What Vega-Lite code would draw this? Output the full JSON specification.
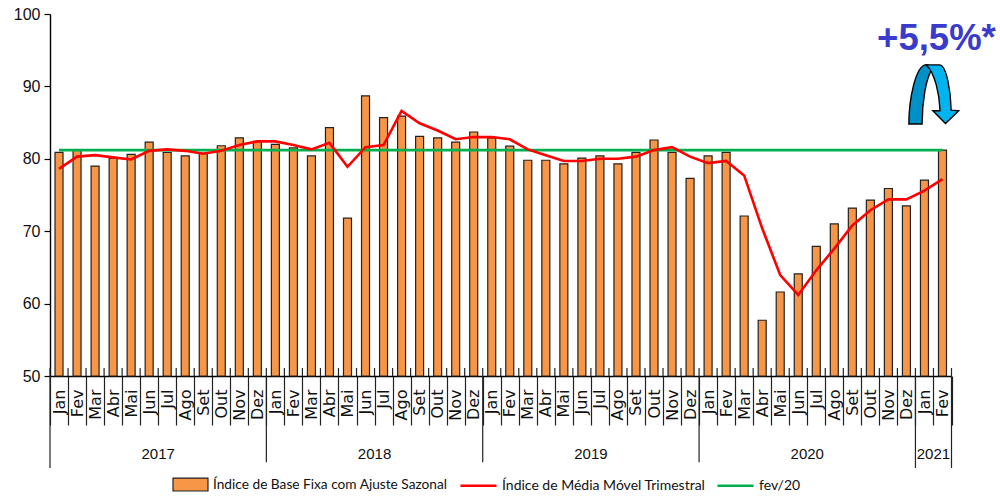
{
"$schema":"https://vega.github.io/schema/vega-lite/v6.json",
"width":901.5,"height":362,
"autosize":{"type":"none"},
"padding":{"left":50,"top":14,"right":48.5,"bottom":121},
"background":"white",
"config":{"view":{"stroke":null}},
"datasets":{
"serie":[
{"mes":"2017-Jan","indice":80.9,"media":78.6,"fev20":81.2},
{"mes":"2017-Fev","indice":81.2,"media":80.3,"fev20":81.2},
{"mes":"2017-Mar","indice":79.0,"media":80.5,"fev20":81.2},
{"mes":"2017-Abr","indice":80.1,"media":80.2,"fev20":81.2},
{"mes":"2017-Mai","indice":80.6,"media":79.9,"fev20":81.2},
{"mes":"2017-Jun","indice":82.3,"media":81.1,"fev20":81.2},
{"mes":"2017-Jul","indice":80.9,"media":81.3,"fev20":81.2},
{"mes":"2017-Ago","indice":80.4,"media":81.1,"fev20":81.2},
{"mes":"2017-Set","indice":80.8,"media":80.7,"fev20":81.2},
{"mes":"2017-Out","indice":81.8,"media":81.1,"fev20":81.2},
{"mes":"2017-Nov","indice":82.9,"media":81.9,"fev20":81.2},
{"mes":"2017-Dez","indice":82.4,"media":82.4,"fev20":81.2},
{"mes":"2018-Jan","indice":82.0,"media":82.4,"fev20":81.2},
{"mes":"2018-Fev","indice":81.5,"media":81.9,"fev20":81.2},
{"mes":"2018-Mar","indice":80.4,"media":81.3,"fev20":81.2},
{"mes":"2018-Abr","indice":84.3,"media":82.2,"fev20":81.2},
{"mes":"2018-Mai","indice":71.8,"media":78.9,"fev20":81.2},
{"mes":"2018-Jun","indice":88.7,"media":81.6,"fev20":81.2},
{"mes":"2018-Jul","indice":85.7,"media":81.9,"fev20":81.2},
{"mes":"2018-Ago","indice":85.9,"media":86.6,"fev20":81.2},
{"mes":"2018-Set","indice":83.1,"media":84.9,"fev20":81.2},
{"mes":"2018-Out","indice":82.9,"media":83.9,"fev20":81.2},
{"mes":"2018-Nov","indice":82.3,"media":82.7,"fev20":81.2},
{"mes":"2018-Dez","indice":83.7,"media":83.0,"fev20":81.2},
{"mes":"2019-Jan","indice":82.9,"media":83.0,"fev20":81.2},
{"mes":"2019-Fev","indice":81.75,"media":82.7,"fev20":81.2},
{"mes":"2019-Mar","indice":79.8,"media":81.3,"fev20":81.2},
{"mes":"2019-Abr","indice":79.8,"media":80.5,"fev20":81.2},
{"mes":"2019-Mai","indice":79.3,"media":79.7,"fev20":81.2},
{"mes":"2019-Jun","indice":80.1,"media":79.7,"fev20":81.2},
{"mes":"2019-Jul","indice":80.4,"media":80.0,"fev20":81.2},
{"mes":"2019-Ago","indice":79.3,"media":80.0,"fev20":81.2},
{"mes":"2019-Set","indice":80.9,"media":80.3,"fev20":81.2},
{"mes":"2019-Out","indice":82.6,"media":81.2,"fev20":81.2},
{"mes":"2019-Nov","indice":80.9,"media":81.6,"fev20":81.2},
{"mes":"2019-Dez","indice":77.3,"media":80.3,"fev20":81.2},
{"mes":"2020-Jan","indice":80.4,"media":79.4,"fev20":81.2},
{"mes":"2020-Fev","indice":80.9,"media":79.7,"fev20":81.2},
{"mes":"2020-Mar","indice":72.1,"media":77.7,"fev20":81.2},
{"mes":"2020-Abr","indice":57.7,"media":70.4,"fev20":81.2},
{"mes":"2020-Mai","indice":61.6,"media":63.95,"fev20":81.2},
{"mes":"2020-Jun","indice":64.1,"media":61.2,"fev20":81.2},
{"mes":"2020-Jul","indice":67.9,"media":64.6,"fev20":81.2},
{"mes":"2020-Ago","indice":71.0,"media":67.6,"fev20":81.2},
{"mes":"2020-Set","indice":73.2,"media":70.8,"fev20":81.2},
{"mes":"2020-Out","indice":74.3,"media":72.9,"fev20":81.2},
{"mes":"2020-Nov","indice":75.9,"media":74.4,"fev20":81.2},
{"mes":"2020-Dez","indice":73.5,"media":74.4,"fev20":81.2},
{"mes":"2021-Jan","indice":77.05,"media":75.6,"fev20":81.2},
{"mes":"2021-Fev","indice":81.2,"media":77.2,"fev20":81.2}
],
"anos":[
{"ano":"2017","centro":"2017-Jun"},
{"ano":"2018","centro":"2018-Jun"},
{"ano":"2019","centro":"2019-Jun"},
{"ano":"2020","centro":"2020-Jun"},
{"ano":"2021","centro":"2021-Jan"}
],
"limites":[
{"mes":"2017-Jan","fim":37.3},
{"mes":"2018-Jan","fim":38.1},
{"mes":"2019-Jan","fim":38.1},
{"mes":"2020-Jan","fim":38.1},
{"mes":"2021-Jan","fim":37.3}
]
},
"data":{"name":"serie"},
"layer":[
{"mark":{"type":"bar","size":8,"stroke":"#222222","strokeWidth":1.2},
"encoding":{
"x":{"field":"mes","type":"nominal","sort":null,"title":null,
"scale":{"type":"band","paddingInner":0,"paddingOuter":0},
"axis":{"orient":"bottom","tickBand":"extent","tickSize":49,"tickColor":"#222222","domainColor":"#000000","domainWidth":1.6,"tickWidth":1.2,
"labelExpr":"split(datum.value,'-')[1]","labelAngle":-90,"labelAlign":"right","labelBaseline":"middle","labelPadding":-36,
"labelFont":"DejaVu Sans","labelFontSize":16,"labelColor":"#111111","labelOverlap":false,"grid":false}},
"y":{"field":"indice","type":"quantitative","title":null,
"scale":{"domain":[50,100],"nice":false,"zero":false},
"axis":{"values":[50,60,70,80,90,100],"grid":false,"tickSize":6,"tickColor":"#000000","tickWidth":1.2,"domainColor":"#000000","domainWidth":1.4,"labelFont":"Liberation Sans","labelFontSize":16,"labelColor":"#111111","labelPadding":4}},
"y2":{"datum":50},
"fill":{"datum":"Índice de Base Fixa com Ajuste Sazonal","type":"nominal",
"scale":{"domain":["Índice de Base Fixa com Ajuste Sazonal"],"range":["#f79646"]},
"legend":{"title":null,"orient":"none","legendX":122,"legendY":452,"labelLimit":400,"symbolType":"M-1,-0.37H1V0.37H-1Z","symbolSize":1225,"symbolStrokeColor":"#222222","symbolStrokeWidth":1.2,"symbolOpacity":1,"labelFont":"Lato","labelFontSize":13.7,"labelColor":"#111111","labelOffset":4}}
}},
{"mark":{"type":"rule","color":"#222222","strokeWidth":1.2},
"encoding":{"x":{"field":"mes","type":"nominal","sort":null,"bandPosition":0},"y":{"datum":50},"y2":{"datum":51.1}}},
{"mark":{"type":"rule","color":"#222222","strokeWidth":1.2},
"data":{"name":"limites"},
"encoding":{"x":{"field":"mes","type":"nominal","sort":null,"bandPosition":0},"y":{"field":"fim","type":"quantitative"},"y2":{"datum":50}}},
{"mark":{"type":"rule","color":"#222222","strokeWidth":1.2},
"data":{"values":[{"mes":"2021-Fev","fim":37.3}]},
"encoding":{"x":{"field":"mes","type":"nominal","sort":null,"bandPosition":1},"y":{"field":"fim","type":"quantitative"},"y2":{"datum":51.1}}},
{"mark":{"type":"text","font":"Liberation Sans","fontSize":15,"color":"#111111","baseline":"middle"},
"data":{"name":"anos"},
"encoding":{"x":{"field":"centro","type":"nominal","sort":null,"bandPosition":1},"y":{"datum":39.2},"text":{"field":"ano"}}},
{"mark":{"type":"line","strokeWidth":2.6,"interpolate":"linear"},
"encoding":{"x":{"field":"mes","type":"nominal","sort":null},"y":{"field":"fev20","type":"quantitative"},
"stroke":{"datum":"fev/20","type":"nominal",
"scale":{"domain":["Índice de Média Móvel Trimestral","fev/20"],"range":["#ff0000","#00b050"]},
"legend":{"title":null,"orient":"none","legendX":409,"legendY":452,"columns":2,"columnPadding":6,"labelLimit":400,"symbolType":"M-1,0H1","symbolSize":1300,"symbolStrokeWidth":2.6,"labelFont":"Lato","labelFontSize":14,"labelColor":"#111111","labelOffset":4}}}},
{"mark":{"type":"line","strokeWidth":2.6,"interpolate":"linear"},
"encoding":{"x":{"field":"mes","type":"nominal","sort":null},"y":{"field":"media","type":"quantitative"},
"stroke":{"datum":"Índice de Média Móvel Trimestral","type":"nominal"}}},
{"mark":{"type":"point","shape":"M-0.82,1 C-0.82,0.2 -0.6,-0.97 -0.24,-0.97 C-0.1,-0.97 -0.05,-0.9 -0.02,-0.86 C-0.25,-0.6 -0.38,0.3 -0.38,1 Z","size":3600,"filled":true,"fill":"#0090c8","stroke":"#000000","strokeWidth":1.4,"opacity":1},
"data":{"values":[{"mes":"2021-Jan"}]},
"encoding":{"x":{"field":"mes","type":"nominal","sort":null,"bandPosition":1},"y":{"datum":88.95}}},
{"mark":{"type":"point","shape":"M-0.24,-0.97 L0.2,-0.97 C0.45,-0.97 0.58,0 0.59,0.54 L0.84,0.56 L0.4,0.98 L-0.02,0.56 L0.22,0.56 C0.2,0 0.05,-0.7 -0.24,-0.97 Z","size":3600,"filled":true,"fill":"#00b4f0","stroke":"#000000","strokeWidth":1.4,"opacity":1},
"data":{"values":[{"mes":"2021-Jan"}]},
"encoding":{"x":{"field":"mes","type":"nominal","sort":null,"bandPosition":1},"y":{"datum":88.95}}},
{"mark":{"type":"text","font":"Liberation Sans","fontWeight":"bold","fontSize":36.5,"color":"#3a3acc","baseline":"alphabetic","align":"center","dx":3},
"data":{"values":[{"mes":"2021-Jan","rotulo":"+5,5%*"}]},
"encoding":{"x":{"field":"mes","type":"nominal","sort":null,"bandPosition":1},"y":{"datum":95.03},"text":{"field":"rotulo"}}}
]
}
